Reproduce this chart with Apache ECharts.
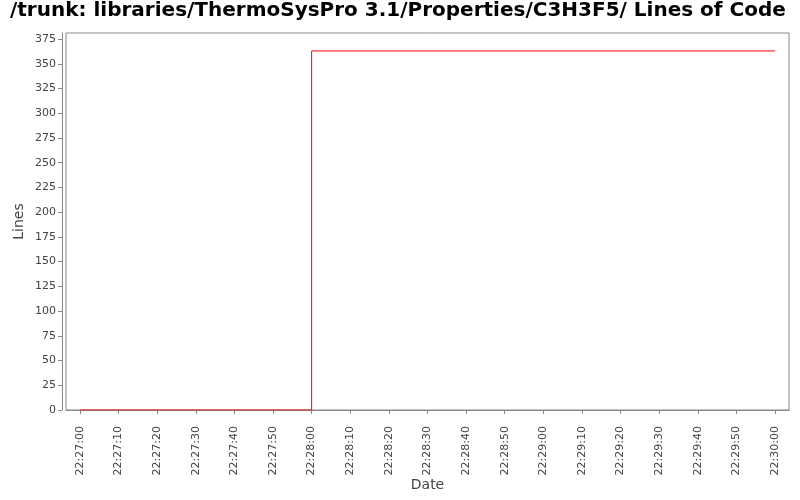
<!DOCTYPE html>
<html><head><meta charset="utf-8">
<script src="https://cdn.jsdelivr.net/npm/echarts@6/dist/echarts.min.js"></script>
<style>html,body{margin:0;padding:0;background:#fff}#c{width:800px;height:500px}</style>
</head><body><div id="c"></div>
<script>
const titleText = '/trunk: libraries/ThermoSysPro 3.1/Properties/C3H3F5/ Lines of Code';
const dates = ['2000-01-01 22:27:00', '2000-01-01 22:28:00', '2000-01-01 22:30:00'];
const lines = [0, 363, 363];
const yTicks = [0,25,50,75,100,125,150,175,200,225,250,275,300,325,350,375];
const xTickLabels = ['22:27:00','22:27:10','22:27:20','22:27:30','22:27:40','22:27:50','22:28:00','22:28:10','22:28:20','22:28:30','22:28:40','22:28:50','22:29:00','22:29:10','22:29:20','22:29:30','22:29:40','22:29:50','22:30:00'];

const toTs = s => new Date(s.replace(' ', 'T')).getTime();
const xTicks = xTickLabels.map(l => toTs('2000-01-01 ' + l));
const t0 = xTicks[0], t1 = xTicks[xTicks.length - 1];
const span = t1 - t0;
const pad = span * 0.02;
const yMax = Math.max(...lines) * 1.05;
const pad2 = n => String(n).padStart(2, '0');
const fmt = v => { const d = new Date(v); return pad2(d.getHours()) + ':' + pad2(d.getMinutes()) + ':' + pad2(d.getSeconds()); };

const chart = echarts.init(document.getElementById('c'), null, {renderer: 'canvas'});
chart.setOption({
  animation: false,
  backgroundColor: '#fff',
  title: {
    text: titleText, left: 10, top: 1, padding: 0,
    textStyle: {fontFamily: 'DejaVu Sans', fontWeight: 'bold', fontSize: 20, color: '#000'}
  },
  grid: {left: 66, right: 11, top: 33, bottom: 90, show: true, borderColor: '#888', borderWidth: 1, backgroundColor: '#fff', outerBoundsMode: 'none', containLabel: false},
  xAxis: {
    type: 'value', min: t0 - pad, max: t1 + pad, offset: 4,
    name: 'Date', nameLocation: 'middle', nameGap: 64, nameMoveOverlap: false,
    nameTextStyle: {fontFamily: 'DejaVu Sans', fontSize: 14, color: '#444'},
    axisLine: {show: true, lineStyle: {color: '#888'}},
    axisTick: {show: true, length: 4, lineStyle: {color: '#888'}, customValues: xTicks},
    axisLabel: {rotate: 90, margin: 12, fontFamily: 'DejaVu Sans', fontSize: 11, color: '#444', customValues: xTicks, formatter: v => fmt(v), hideOverlap: false},
    splitLine: {show: false}
  },
  yAxis: {
    type: 'value', min: 0, max: yMax, offset: 4,
    name: 'Lines', nameLocation: 'middle', nameGap: 36, nameRotate: 90, nameMoveOverlap: false,
    nameTextStyle: {fontFamily: 'DejaVu Sans', fontSize: 14, color: '#444'},
    axisLine: {show: true, lineStyle: {color: '#888'}},
    axisTick: {show: true, length: 4, lineStyle: {color: '#888'}, customValues: yTicks},
    axisLabel: {margin: 6, fontFamily: 'DejaVu Sans', fontSize: 11, color: '#444', customValues: yTicks},
    splitLine: {show: false}
  },
  series: [{
    type: 'line', step: 'end', symbol: 'none',
    data: dates.map((d, i) => [toTs(d), lines[i]]),
    lineStyle: {color: '#ff0000', width: 1}
  }]
});
</script></body></html>
